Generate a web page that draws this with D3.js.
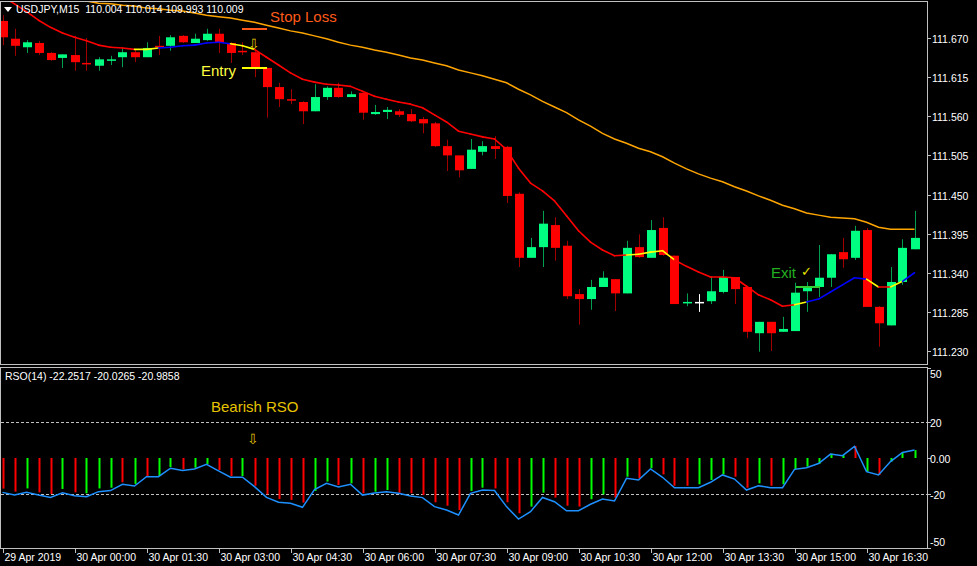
<!DOCTYPE html><html><head><meta charset="utf-8">
<script src="https://cdn.jsdelivr.net/npm/d3@7"></script>
<style>body{margin:0;background:#000}svg{display:block}text{font-family:"Liberation Sans",Arial,sans-serif;white-space:pre}</style></head><body>
<script>
const opens=[111.694,111.669,111.657,111.663,111.649,111.642,111.646,111.635,111.631,111.639,111.643,111.650,111.643,111.659,111.659,111.673,111.663,111.667,111.676,111.663,111.652,111.650,111.628,111.601,111.584,111.580,111.567,111.587,111.600,111.587,111.593,111.563,111.566,111.567,111.563,111.556,111.550,111.518,111.505,111.486,111.510,111.518,111.517,111.451,111.361,111.376,111.407,111.378,111.310,111.303,111.320,111.331,111.311,111.376,111.361,111.403,111.364,111.297,111.299,111.300,111.313,111.334,111.320,111.255,111.271,111.257,111.258,111.314,111.320,111.333,111.369,111.361,111.400,111.292,111.266,111.327,111.373];
const highs=[111.702,111.683,111.667,111.666,111.650,111.647,111.673,111.670,111.643,111.645,111.657,111.654,111.664,111.673,111.674,111.674,111.676,111.683,111.683,111.664,111.664,111.654,111.628,111.607,111.598,111.581,111.605,111.602,111.607,111.595,111.593,111.576,111.573,111.570,111.570,111.559,111.552,111.527,111.505,111.528,111.525,111.532,111.518,111.453,111.389,111.427,111.418,111.385,111.317,111.330,111.342,111.331,111.385,111.394,111.414,111.418,111.364,111.311,111.310,111.335,111.344,111.334,111.320,111.271,111.271,111.278,111.326,111.327,111.379,111.366,111.389,111.406,111.403,111.293,111.348,111.387,111.427];
const lows=[111.660,111.645,111.649,111.646,111.638,111.628,111.624,111.624,111.624,111.632,111.629,111.636,111.643,111.646,111.652,111.663,111.663,111.666,111.649,111.635,111.646,111.615,111.558,111.573,111.577,111.549,111.567,111.583,111.586,111.587,111.555,111.562,111.556,111.559,111.552,111.536,111.517,111.483,111.474,111.486,111.505,111.500,111.438,111.348,111.361,111.348,111.357,111.303,111.267,111.288,111.320,111.286,111.311,111.361,111.361,111.364,111.296,111.293,111.285,111.296,111.311,111.296,111.248,111.229,111.230,111.257,111.258,111.285,111.306,111.320,111.347,111.358,111.292,111.236,111.266,111.323,111.373];
const closes=[111.671,111.659,111.664,111.649,111.639,111.647,111.636,111.633,111.640,111.640,111.650,111.643,111.656,111.657,111.671,111.664,111.669,111.676,111.663,111.649,111.650,111.628,111.601,111.584,111.583,111.567,111.587,111.600,111.587,111.591,111.565,111.566,111.569,111.562,111.553,111.550,111.518,111.505,111.484,111.513,111.518,111.514,111.448,111.361,111.376,111.409,111.375,111.307,111.303,111.320,111.333,111.311,111.375,111.362,111.400,111.365,111.296,111.299,111.299,111.314,111.334,111.317,111.257,111.271,111.255,111.261,111.312,111.320,111.333,111.366,111.359,111.399,111.292,111.269,111.327,111.375,111.389];
const fastMA=[111.728,111.718,111.707,111.695,111.685,111.677,111.671,111.666,111.660,111.657,111.656,111.654,111.654,111.656,111.657,111.659,111.660,111.663,111.664,111.662,111.659,111.654,111.643,111.632,111.621,111.612,111.608,111.605,111.604,111.602,111.595,111.588,111.584,111.580,111.577,111.572,111.562,111.552,111.539,111.535,111.531,111.528,111.513,111.487,111.466,111.455,111.441,111.420,111.399,111.383,111.372,111.364,111.365,111.366,111.369,111.371,111.358,111.349,111.341,111.334,111.334,111.333,111.321,111.309,111.302,111.293,111.295,111.299,111.303,111.313,111.323,111.333,111.331,111.320,111.320,111.328,111.340];
// segment colour of fast MA from bar i to i+1: r red, b blue, y yellow
const fastSeg="rrrrrrrrrrryybbbbbbyyrrrrrrrrrrrrrrrrrrrrrrrrrrrrrrryyyyrrrrrrrrrrybbbbbyrybbb";
const slowStart=5;
const slowMA=[111.728,111.725,111.722,111.719,111.718,111.716,111.715,111.712,111.711,111.709,111.708,111.705,111.702,111.700,111.698,111.695,111.692,111.688,111.684,111.680,111.677,111.673,111.669,111.664,111.660,111.657,111.653,111.650,111.646,111.642,111.639,111.635,111.631,111.625,111.621,111.617,111.612,111.607,111.598,111.590,111.581,111.573,111.565,111.555,111.546,111.536,111.528,111.522,111.515,111.510,111.503,111.494,111.486,111.479,111.473,111.468,111.461,111.455,111.448,111.442,111.435,111.430,111.424,111.421,111.418,111.417,111.416,111.411,111.404,111.401,111.401,111.401];
const rsoHist=[-17.0,-18.7,-16.9,-19.1,-20.0,-17.2,-19.1,-19.6,-16.9,-16.5,-13.5,-14.4,-10.0,-10.0,-5.0,-6.3,-5.4,-3.3,-6.7,-10.0,-10.0,-15.4,-20.2,-22.8,-23.3,-24.8,-18.3,-13.1,-15.0,-14.1,-19.6,-18.7,-17.8,-19.3,-19.6,-20.6,-24.6,-26.5,-28.9,-18.3,-16.5,-16.9,-24.6,-30.7,-27.0,-19.3,-22.0,-26.5,-27.0,-22.9,-20.2,-22.0,-10.4,-11.3,-5.7,-9.1,-15.4,-15.4,-14.6,-12.2,-9.1,-10.4,-16.5,-14.1,-15.4,-14.6,-6.1,-4.8,-3.3,2.4,1.5,6.7,-7.6,-9.4,-2.0,3.1,4.4];
const rsoHistUp="00100101110101101100100000110101100000011000110001101010001110010111111010111";
const rsoLine=[-19.1,-20.6,-19.1,-20.6,-21.9,-19.3,-21.0,-21.5,-18.7,-18.1,-14.6,-15.6,-10.4,-10.4,-5.7,-7.0,-6.1,-3.5,-7.2,-10.7,-10.7,-15.9,-21.9,-24.6,-25.2,-27.4,-17.6,-14.1,-16.1,-14.6,-20.6,-19.4,-18.7,-19.6,-21.1,-22.0,-27.0,-28.9,-31.7,-19.6,-17.8,-18.1,-27.0,-33.9,-29.8,-21.9,-24.3,-29.3,-29.3,-25.7,-22.8,-23.9,-11.3,-12.2,-6.1,-10.7,-16.5,-16.5,-16.5,-13.5,-9.4,-11.7,-17.8,-15.4,-16.5,-16.5,-6.3,-5.4,-3.1,2.2,1.3,6.5,-7.6,-9.4,-2.0,3.1,4.4];
const priceTicks=[111.670,111.615,111.560,111.505,111.450,111.395,111.340,111.285,111.230];
const rsoTicks=[50,20,0,-20,-50];
const timeLabels=["29 Apr 2019","30 Apr 00:00","30 Apr 01:30","30 Apr 03:00","30 Apr 04:30","30 Apr 06:00","30 Apr 07:30","30 Apr 09:00","30 Apr 10:30","30 Apr 12:00","30 Apr 13:30","30 Apr 15:00","30 Apr 16:30"];

const W=977,H=566;
const svg=d3.select("body").append("svg").attr("width",W).attr("height",H);
svg.append("rect").attr("width",W).attr("height",H).attr("fill","#000");
const x=d3.scaleLinear().domain([0,76]).range([2.5,914.5]);
const y=d3.scaleLinear().domain([111.230,111.670]).range([351,38]);
const yr=d3.scaleLinear().domain([-50,50]).range([548,368]);
const AX=927;
svg.append("rect").attr("x",0.5).attr("y",1.5).attr("width",AX).attr("height",363).attr("fill","none").attr("stroke","#c0c0c0");
svg.append("rect").attr("x",0.5).attr("y",367.5).attr("width",AX).attr("height",181).attr("fill","none").attr("stroke","#c0c0c0");
const main=svg.append("g").attr("clip-path","url(#cm)");
svg.append("clipPath").attr("id","cm").append("rect").attr("x",1).attr("y",2).attr("width",AX-1).attr("height",362);
const idx=d3.range(opens.length);
main.append("path").datum(slowMA).attr("fill","none").attr("stroke","#ffa500").attr("stroke-width",1.5)
 .attr("d",d3.line().x((d,i)=>x(i+slowStart)).y(d=>y(d)));
const col=i=>closes[i]>opens[i]?"#00ff80":closes[i]<opens[i]?"#ff0000":"#ffffff";
main.selectAll("line.w").data(idx).join("line").attr("x1",i=>Math.round(x(i))+0.5).attr("x2",i=>Math.round(x(i))+0.5)
 .attr("y1",i=>y(highs[i])).attr("y2",i=>y(lows[i])).attr("stroke",i=>i===58?"#fff":closes[i]>=opens[i]?"#00a050":"#a00000").attr("stroke-width",1);
main.selectAll("rect.b").data(idx).join("rect").attr("x",i=>Math.round(x(i))-4).attr("width",9)
 .attr("y",i=>y(Math.max(opens[i],closes[i]))).attr("height",i=>Math.max(1.5,Math.abs(y(opens[i])-y(closes[i]))))
 .attr("fill",i=>col(i));
const segC={r:"#ff0000",b:"#0000ff",y:"#ffff00"};
main.selectAll("line.f").data(d3.range(fastMA.length-1)).join("line")
 .attr("x1",i=>x(i)).attr("x2",i=>x(i+1)).attr("y1",i=>y(fastMA[i])).attr("y2",i=>y(fastMA[i+1]))
 .attr("stroke",i=>segC[fastSeg[i]]).attr("stroke-width",1.6).attr("stroke-linecap","round");
svg.append("text").attr("x",270).attr("y",22).attr("fill","#ff5a1a").attr("font-size",15).text("Stop Loss");
svg.append("line").attr("x1",242).attr("x2",267).attr("y1",29).attr("y2",29).attr("stroke","#ff5a1a").attr("stroke-width",2);
svg.append("text").attr("x",201).attr("y",76).attr("fill","#ffff40").attr("font-size",15).text("Entry");
svg.append("line").attr("x1",242).attr("x2",267).attr("y1",68).attr("y2",68).attr("stroke","#ffff00").attr("stroke-width",2);
svg.append("text").attr("x",254).attr("y",49).attr("fill","#e6c800").attr("font-size",14).attr("font-family","DejaVu Sans").attr("text-anchor","middle").text("⇩");
svg.append("text").attr("x",771).attr("y",278).attr("fill","#22b022").attr("font-size",15).text("Exit");
svg.append("text").attr("x",801).attr("y",276).attr("fill","#e6e600").attr("font-size",13).attr("font-family","DejaVu Sans").text("✓");
svg.append("line").attr("x1",796).attr("x2",820).attr("y1",287).attr("y2",287).attr("stroke","#33cc33").attr("stroke-width",2);
svg.append("path").attr("d","M4,7 L12,7 L8,12 Z").attr("fill","#fff");
svg.append("text").attr("x",16).attr("y",13).attr("fill","#fff").attr("font-size",10.5).text("USDJPY,M15  110.004 110.014 109.993 110.009");
svg.selectAll("g.pt").data(priceTicks).join("g").each(function(d){
 const g=d3.select(this),yy=Math.round(y(d))+0.5;
 g.append("line").attr("x1",AX).attr("x2",AX+4).attr("y1",yy).attr("y2",yy).attr("stroke","#c0c0c0");
 g.append("text").attr("x",932).attr("y",yy+4).attr("fill","#fff").attr("font-size",10.5).text(d.toFixed(3));
});
const lower=svg.append("g");
[20,-20].forEach(v=>lower.append("line").attr("x1",1).attr("x2",AX).attr("y1",Math.round(yr(v))+0.5).attr("y2",Math.round(yr(v))+0.5).attr("stroke","#c0c0c0").attr("stroke-dasharray","3,2"));
lower.selectAll("line.h").data(idx).join("line").attr("x1",i=>Math.round(x(i))+0.5).attr("x2",i=>Math.round(x(i))+0.5)
 .attr("y1",yr(0)).attr("y2",i=>yr(rsoHist[i])).attr("stroke",i=>rsoHistUp[i]==="1"?"#00ff00":"#ff0000").attr("stroke-width",2);
lower.append("path").datum(rsoLine).attr("fill","none").attr("stroke","#1e90ff").attr("stroke-width",1.5)
 .attr("d",d3.line().x((d,i)=>x(i)).y(d=>yr(d)));
svg.append("text").attr("x",5).attr("y",380).attr("fill","#fff").attr("font-size",10.5).text("RSO(14) -22.2517 -20.0265 -20.9858");
svg.append("text").attr("x",211).attr("y",412).attr("fill","#e6c300").attr("font-size",15).text("Bearish RSO");
svg.append("text").attr("x",253).attr("y",444).attr("fill","#e6c300").attr("font-size",14).attr("font-family","DejaVu Sans").attr("text-anchor","middle").text("⇩");
rsoTicks.forEach(v=>{
 const yy=Math.round(yr(v))+0.5;
 svg.append("line").attr("x1",AX).attr("x2",AX+4).attr("y1",yy).attr("y2",yy).attr("stroke","#c0c0c0");
 svg.append("text").attr("x",930).attr("y",v===50?378:v===-50?546:yy+4).attr("fill","#fff").attr("font-size",10.5).text(v===0?"0.00":v);
});
timeLabels.forEach((t,k)=>{
 const xx=Math.round(x(k*6))+0.5;
 svg.append("line").attr("x1",xx).attr("x2",xx).attr("y1",549).attr("y2",553).attr("stroke","#c0c0c0");
 svg.append("text").attr("x",xx+1).attr("y",561).attr("fill","#fff").attr("font-size",10.5).text(t);
});
</script></body>
